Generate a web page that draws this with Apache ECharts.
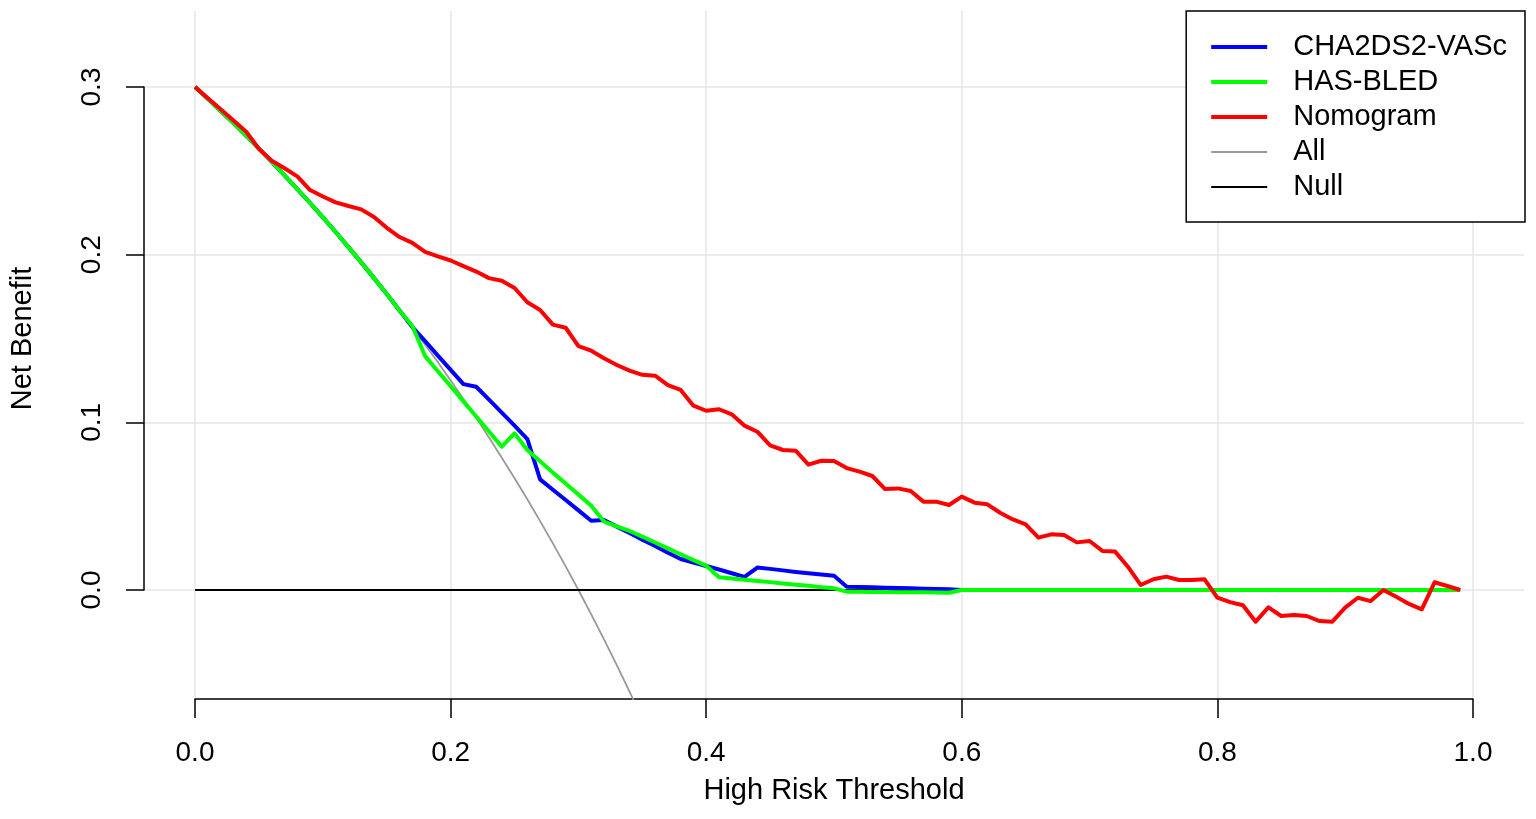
<!DOCTYPE html>
<html><head><meta charset="utf-8">
<script src="https://cdn.jsdelivr.net/npm/echarts@6/dist/echarts.min.js"></script>
<style>html,body{margin:0;padding:0;background:#fff}#c{width:1536px;height:819px}</style>
</head><body><div id="c"></div><script>
const thresholds = [0.00,0.01,0.02,0.03,0.04,0.05,0.06,0.07,0.08,0.09,
0.10,0.11,0.12,0.13,0.14,0.15,0.16,0.17,0.18,0.19,
0.20,0.21,0.22,0.23,0.24,0.25,0.26,0.27,0.28,0.29,
0.30,0.31,0.32,0.33,0.34,0.35,0.36,0.37,0.38,0.39,
0.40,0.41,0.42,0.43,0.44,0.45,0.46,0.47,0.48,0.49,
0.50,0.51,0.52,0.53,0.54,0.55,0.56,0.57,0.58,0.59,
0.60,0.61,0.62,0.63,0.64,0.65,0.66,0.67,0.68,0.69,
0.70,0.71,0.72,0.73,0.74,0.75,0.76,0.77,0.78,0.79,
0.80,0.81,0.82,0.83,0.84,0.85,0.86,0.87,0.88,0.89,
0.90,0.91,0.92,0.93,0.94,0.95,0.96,0.97,0.98,0.99];

const cha2ds2Vasc = [0.3000,0.2929,0.2857,0.2784,0.2708,0.2632,0.2553,0.2473,0.2391,0.2308,
0.2222,0.2135,0.2045,0.1954,0.1860,0.1765,0.1667,0.1568,0.1484,0.1398,
0.1313,0.1228,0.1212,0.1135,0.1058,0.0980,0.0900,0.0660,0.0598,0.0537,
0.0475,0.0413,0.0418,0.0378,0.0340,0.0300,0.0263,0.0222,0.0185,0.0163,
0.0143,0.0122,0.0100,0.0078,0.0134,0.0126,0.0117,0.0108,0.0100,0.0092,
0.0085,0.0020,0.0018,0.0016,0.0014,0.0012,0.0010,0.0008,0.0006,0.0004,
0,0,0,0,0,0,0,0,0,0,
0,0,0,0,0,0,0,0,0,0,
0,0,0,0,0,0,0,0,0,0,
0,0,0,0,0,0,0,0,0,0];

const hasBled = [0.3000,0.2929,0.2857,0.2784,0.2708,0.2632,0.2553,0.2473,0.2391,0.2308,
0.2222,0.2135,0.2045,0.1954,0.1860,0.1765,0.1667,0.1575,0.1395,0.1305,
0.1215,0.1125,0.1035,0.0945,0.0855,0.0934,0.0835,0.0768,0.0700,0.0635,
0.0570,0.0502,0.0408,0.0380,0.0352,0.0318,0.0283,0.0248,0.0213,0.0178,
0.0145,0.0076,0.0069,0.0061,0.0054,0.0047,0.0039,0.0032,0.0025,0.0017,
0.0010,-0.0010,-0.0011,-0.0012,-0.0012,-0.0013,-0.0014,-0.0014,-0.0015,-0.0016,
0,0,0,0,0,0,0,0,0,0,
0,0,0,0,0,0,0,0,0,0,
0,0,0,0,0,0,0,0,0,0,
0,0,0,0,0,0,0,0,0,0];

const nomogram = [0.3000,0.2933,0.2867,0.2800,0.2733,0.2630,0.2560,0.2515,0.2467,0.2385,
0.2347,0.2312,0.2290,0.2270,0.2225,0.2160,0.2105,0.2070,0.2017,0.1990,
0.1965,0.1932,0.1899,0.1860,0.1844,0.1801,0.1716,0.1670,0.1583,0.1564,
0.1455,0.1427,0.1382,0.1342,0.1308,0.1283,0.1278,0.1222,0.1193,0.1099,
0.1069,0.1078,0.1048,0.0980,0.0944,0.0862,0.0835,0.0831,0.0748,0.0771,
0.0769,0.0727,0.0706,0.0680,0.0602,0.0606,0.0590,0.0527,0.0527,0.0507,
0.0557,0.0521,0.0511,0.0461,0.0421,0.0392,0.0312,0.0332,0.0328,0.0284,
0.0292,0.0233,0.0229,0.0139,0.0030,0.0064,0.0080,0.0060,0.0060,0.0064,
-0.0045,-0.0072,-0.0091,-0.0189,-0.0103,-0.0155,-0.0149,-0.0155,-0.0185,-0.0189,
-0.0105,-0.0046,-0.0066,0.0000,-0.0040,-0.0083,-0.0115,0.0046,0.0024,0.0000];

const allThresholds = [0.00,0.01,0.02,0.03,0.04,0.05,0.06,0.07,0.08,0.09,
0.10,0.11,0.12,0.13,0.14,0.15,0.16,0.17,0.18,0.19,
0.20,0.21,0.22,0.23,0.24,0.25,0.26,0.27,0.28,0.29,
0.30,0.31,0.32,0.33,0.34,0.35];
const allValues = [0.3000,0.2929,0.2857,0.2784,0.2708,0.2632,0.2553,0.2473,0.2391,0.2308,
0.2222,0.2135,0.2045,0.1954,0.1860,0.1765,0.1667,0.1566,0.1463,0.1358,
0.1250,0.1139,0.1026,0.0909,0.0789,0.0667,0.0541,0.0411,0.0278,0.0141,
0.0000,-0.0145,-0.0294,-0.0448,-0.0606,-0.0769];

const nullThresholds = [0.00, 0.99];
const nullValues = [0, 0];

const seriesNames = ['CHA2DS2-VASc','HAS-BLED','Nomogram','All','Null'];
const xTickLabels = ['0.0','0.2','0.4','0.6','0.8','1.0'];
const yTickLabels = ['0.0','0.1','0.2','0.3'];
const xTitle = 'High Risk Threshold';
const yTitle = 'Net Benefit';

const FONT = '"Liberation Sans", Arial, sans-serif';
const THICK_ICON = 'path://M0 0H56V4H0Z';
const THIN_ICON = 'path://M0 0H56V2H0Z';
const pairs = (xs, ys) => xs.map((x, i) => [x, ys[i]]);
const lineSeries = (name, xs, ys, color, width) => ({
  name, type: 'line', xAxisIndex: 0, yAxisIndex: 0,
  data: pairs(xs, ys), symbol: 'none', showSymbol: false, silent: true,
  lineStyle: { color, width, join: 'round' }, itemStyle: { color },
  clip: true, animation: false
});

const chart = echarts.init(document.getElementById('c'), null, { renderer: 'canvas' });
chart.setOption({
  backgroundColor: '#fff',
  animation: false,
  grid: [
    { left: 144, top: 11, width: 1380, height: 688, outerBoundsMode: 'none' },
    { left: 195, top: 11, width: 1278, height: 688, outerBoundsMode: 'none' },
    { left: 144, top: 87, width: 1380, height: 503, outerBoundsMode: 'none' }
  ],
  xAxis: [
    { gridIndex: 0, type: 'value', min: -0.04, max: 1.04, show: false },
    { gridIndex: 1, type: 'value', min: 0, max: 1, interval: 0.2,
      axisLine: { show: true, onZero: false, lineStyle: { color: '#000', width: 1.5 } },
      axisTick: { show: true, inside: false, length: 19, lineStyle: { color: '#000', width: 1.5 } },
      axisLabel: { show: true, margin: 40, fontSize: 28, color: '#000', fontFamily: FONT,
        formatter: (v) => xTickLabels[Math.round(v / 0.2)] },
      splitLine: { show: true, lineStyle: { color: '#e6e6e6', width: 1.5 } },
      name: xTitle, nameLocation: 'middle', nameGap: 77,
      nameTextStyle: { fontSize: 29, color: '#000', fontFamily: FONT } },
    { gridIndex: 2, type: 'value', min: 0, max: 1, show: false }
  ],
  yAxis: [
    { gridIndex: 0, type: 'value', min: -0.065, max: 0.3453, show: false },
    { gridIndex: 1, type: 'value', min: 0, max: 1, show: false },
    { gridIndex: 2, type: 'value', min: 0, max: 0.3, interval: 0.1,
      axisLine: { show: true, onZero: false, lineStyle: { color: '#000', width: 1.5 } },
      axisTick: { show: true, inside: false, length: 18, lineStyle: { color: '#000', width: 1.5 } },
      axisLabel: { show: true, rotate: 90, margin: 38, fontSize: 28, color: '#000', fontFamily: FONT,
        formatter: (v) => yTickLabels[Math.round(v / 0.1)] },
      splitLine: { show: true, lineStyle: { color: '#e6e6e6', width: 1.5 } },
      name: yTitle, nameLocation: 'middle', nameGap: 107, nameRotate: 90,
      nameTextStyle: { fontSize: 29, color: '#000', fontFamily: FONT } }
  ],
  legend: {
    data: seriesNames.map((n, i) => ({ name: n, icon: i < 3 ? THICK_ICON : THIN_ICON })),
    orient: 'vertical', right: 11, top: 11, symbolKeepAspect: true,
    padding: [18.5, 18, 17.5, 25], itemGap: 0, itemWidth: 56, itemHeight: 14,
    borderColor: '#000', borderWidth: 1.5, backgroundColor: '#fff', selectedMode: false,
    textStyle: { fontSize: 29, color: '#000', fontFamily: FONT, lineHeight: 35, padding: [0, 0, 0, 21] }
  },
  series: [
    lineSeries('All', allThresholds, allValues, '#999999', 1.8),
    lineSeries('Null', nullThresholds, nullValues, '#000000', 1.8),
    lineSeries('CHA2DS2-VASc', thresholds, cha2ds2Vasc, '#0000ff', 4),
    lineSeries('HAS-BLED', thresholds, hasBled, '#00ff00', 4),
    lineSeries('Nomogram', thresholds, nomogram, '#ff0000', 4)
  ]
});
</script></body></html>
